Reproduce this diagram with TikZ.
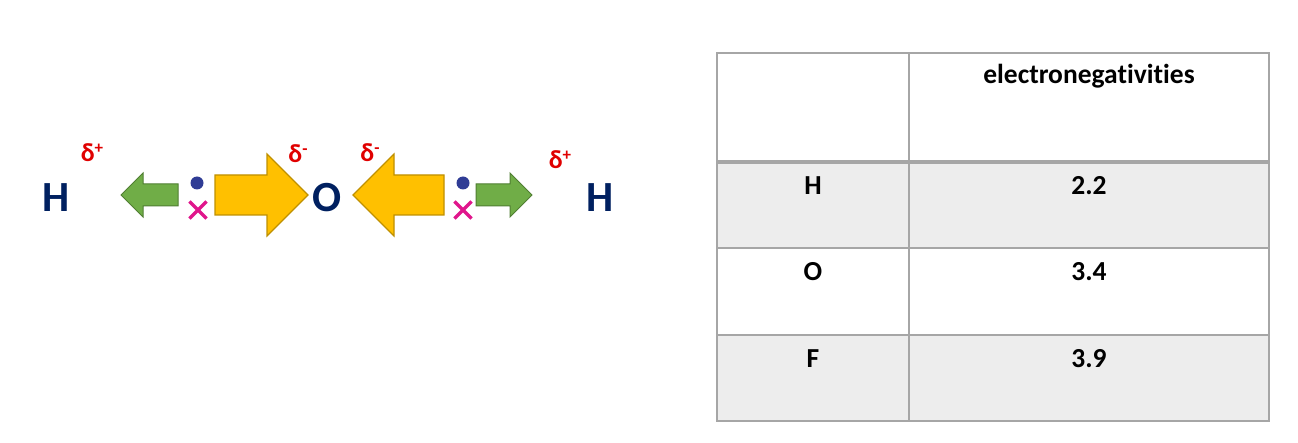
\documentclass[tikz,border=0pt]{standalone}
\usepackage{fontspec}
\setmainfont{Carlito}[Ligatures=NoCommon]
\usetikzlibrary{positioning,shapes.misc}

\definecolor{atomblue}{HTML}{002060}
\definecolor{deltared}{HTML}{E00000}
\definecolor{leafgreen}{HTML}{70AD47}
\definecolor{leafedge}{HTML}{507E32}
\definecolor{gold}{HTML}{FFC000}
\definecolor{goldedge}{HTML}{BF9000}
\definecolor{dotblue}{HTML}{2F3C95}
\definecolor{crosspink}{HTML}{E0168C}
\definecolor{rowgrey}{HTML}{EDEDED}
\definecolor{rulegrey}{HTML}{A6A6A6}

\begin{document}
\begin{tikzpicture}[x=1pt,y=-1pt,
        atom/.style={font=\fontsize{43}{43}\selectfont\bfseries,text=atomblue,anchor=base,inner sep=0pt},
        charge/.style={font=\fontsize{26}{26}\selectfont\bfseries,text=deltared,anchor=base,inner sep=0pt},
        cell/.style={font=\fontsize{27.5}{27.5}\selectfont\bfseries,anchor=base,inner sep=0pt},
        smallarrow/.style={fill=leafgreen,draw=leafedge,line width=1pt,line join=miter},
        bigarrow/.style={fill=gold,draw=goldedge,line width=1.2pt,line join=miter},
        electron/.style={circle,fill=dotblue,inner sep=0pt,minimum size=13pt},
        partner/.style={cross out,draw=crosspink,line width=3.2pt,inner sep=0pt,minimum size=14pt}]
        \useasboundingbox (0,0) rectangle (1298,443);

        % molecule
        \node[atom] (h1) at (56,212) {H};
        \node[atom] (o) at (327,212) {O};
        \node[atom] (h2) at (600,212) {H};
        \node[charge] (d1) at (92,162) {δ\raisebox{0.32em}{\fontsize{17}{17}\selectfont +}};
        \node[charge] (d2) at (298,163) {δ\raisebox{0.32em}{\fontsize{17}{17}\selectfont -}};
        \node[charge] (d3) at (370,162) {δ\raisebox{0.32em}{\fontsize{17}{17}\selectfont -}};
        \node[charge] (d4) at (560,169) {δ\raisebox{0.32em}{\fontsize{17}{17}\selectfont +}};

        \node[electron] (e1) at (197,183) {};
        \node[partner] (x1) at (198,210) {};
        \node[electron] (e2) at (463,183) {};
        \node[partner] (x2) at (463,210) {};

        \draw[smallarrow] (121,195) -- (143,173) -- (143,184) -- (178,184) -- (178,206) -- (143,206) -- (143,217) -- cycle;
        \draw[bigarrow] (308,195) -- (267,154) -- (267,175) -- (215,175) -- (215,215) -- (267,215) -- (267,236) -- cycle;
        \draw[bigarrow] (353,195) -- (394,154) -- (394,175) -- (444,175) -- (444,215) -- (394,215) -- (394,236) -- cycle;
        \draw[smallarrow] (532,195) -- (510,173) -- (510,184) -- (476,184) -- (476,206) -- (510,206) -- (510,217) -- cycle;

        % table
        \fill[rowgrey] (717,162) rectangle (1269,248);
        \fill[rowgrey] (717,335) rectangle (1269,421);
        \draw[rulegrey,line width=1.6pt] (717,53) rectangle (1269,421);
        \draw[rulegrey,line width=1.6pt] (909,53) -- (909,421);
        \draw[rulegrey,line width=3.2pt] (717,162) -- (1269,162);
        \draw[rulegrey,line width=1.6pt] (717,248) -- (1269,248);
        \draw[rulegrey,line width=1.6pt] (717,335) -- (1269,335);

        \node[cell] (hdr) at (1089,84) {electronegativities};
        \node[cell] (eh) at (813,195) {H};
        \node[cell] (vh) at (1089,195) {2.2};
        \node[cell] (eo) at (813,281) {O};
        \node[cell] (vo) at (1089,281) {3.4};
        \node[cell] (ef) at (813,367) {F};
        \node[cell] (vf) at (1089,367) {3.9};
\end{tikzpicture}
\end{document}
